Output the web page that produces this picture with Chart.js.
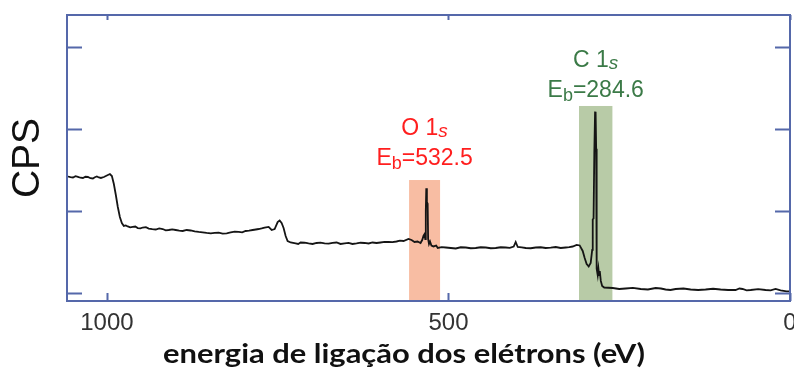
<!DOCTYPE html>
<html>
<head>
<meta charset="utf-8">
<script src="https://cdn.jsdelivr.net/npm/chart.js@4/dist/chart.umd.min.js"></script>
<style>
  html, body { margin: 0; padding: 0; background: #ffffff; }
  #wrap { width: 794px; height: 370px; position: relative; }
</style>
</head>
<body>
<div id="wrap"><canvas id="xps" width="794" height="370"></canvas></div>
<script>
// XPS survey spectrum: binding energy (eV) against counts per second (arbitrary units)
const bindingEnergy = [
  1057.1, 1053.5, 1049.8, 1046.0, 1042.5, 1038.9, 1035.2, 1031.5, 1027.9, 1024.2,
  1020.6, 1017.7, 1014.8, 1011.8, 1008.9, 1004.5, 1000.1, 995.7, 992.8, 989.9,
  987.0, 984.1, 981.1, 978.2, 975.3, 972.4, 969.5, 966.0, 962.2, 958.5,
  954.9, 951.0, 947.6, 943.0, 938.8, 933.7, 928.6, 923.5, 918.4, 914.0,
  909.6, 904.5, 899.4, 894.2, 889.1, 883.2, 877.4, 871.5, 865.7, 860.0,
  854.0, 848.0, 842.3, 836.4, 830.6, 824.7, 818.9, 813.0, 807.2, 802.0,
  797.0, 792.0, 786.7, 782.0, 777.9, 773.5, 769.2, 763.3, 758.9, 754.5,
  750.1, 747.2, 744.3, 741.4, 738.4, 735.5, 731.1, 727.5, 723.8, 720.0,
  716.5, 710.6, 704.8, 699.0, 693.1, 687.3, 681.4, 675.5, 669.7, 663.8,
  658.0, 652.0, 646.3, 640.5, 634.6, 628.7, 622.9, 617.0, 611.2, 605.3,
  599.5, 593.6, 587.8, 582.0, 576.1, 571.0, 565.8, 558.5, 554.1, 549.7,
  545.3, 540.9, 538.5, 536.5, 535.0, 534.0, 533.2, 532.5, 531.6, 530.5,
  529.8, 528.5, 527.0, 525.0, 522.0, 518.0, 515.7, 510.0, 504.0, 496.6,
  489.3, 482.0, 474.7, 467.4, 460.1, 452.8, 445.4, 438.1, 430.8, 423.5,
  416.2, 410.3, 404.5, 401.6, 398.6, 392.8, 386.9, 379.6, 372.3, 365.0,
  357.7, 350.3, 343.0, 335.7, 328.4, 323.3, 318.2, 312.3, 307.9, 303.5,
  300.6, 297.7, 294.7, 291.8, 289.6, 288.8, 287.6, 286.5, 285.4, 284.6,
  283.8, 283.5, 282.6, 281.5, 280.5, 279.5, 278.5, 277.0, 275.0, 272.0,
  259.6, 250.0, 240.6, 230.0, 218.6, 208.0, 196.7, 189.0, 182.1, 175.0,
  167.4, 156.0, 145.5, 134.5, 123.6, 112.6, 101.6, 90.6, 79.7, 74.0,
  69.5, 63.5, 57.6, 46.6, 35.7, 28.4, 21.1, 13.8, 5.0, 0.6
];
const counts = [
  1.421, 1.412, 1.409, 1.424, 1.417, 1.406, 1.403, 1.418, 1.415, 1.400,
  1.397, 1.412, 1.421, 1.409, 1.403, 1.415, 1.433, 1.451, 1.427, 1.330,
  1.196, 1.050, 0.928, 0.855, 0.819, 0.825, 0.813, 0.802, 0.807, 0.812,
  0.794, 0.789, 0.800, 0.804, 0.788, 0.781, 0.776, 0.789, 0.782, 0.765,
  0.770, 0.778, 0.770, 0.762, 0.758, 0.770, 0.764, 0.752, 0.746, 0.742,
  0.734, 0.728, 0.734, 0.738, 0.727, 0.729, 0.740, 0.750, 0.746, 0.741,
  0.758, 0.762, 0.770, 0.776, 0.782, 0.790, 0.800, 0.807, 0.770, 0.782,
  0.867, 0.886, 0.855, 0.794, 0.697, 0.636, 0.618, 0.612, 0.606, 0.600,
  0.618, 0.615, 0.606, 0.600, 0.612, 0.616, 0.606, 0.603, 0.612, 0.618,
  0.600, 0.606, 0.612, 0.600, 0.606, 0.615, 0.612, 0.606, 0.618, 0.612,
  0.618, 0.625, 0.624, 0.622, 0.630, 0.640, 0.636, 0.661, 0.648, 0.624,
  0.630, 0.612, 0.648, 0.700, 0.720, 0.660, 1.000, 1.277, 1.110, 1.090,
  0.660, 0.600, 0.630, 0.580, 0.570, 0.580, 0.551, 0.562, 0.557, 0.551,
  0.545, 0.560, 0.557, 0.548, 0.551, 0.560, 0.557, 0.548, 0.551, 0.560,
  0.557, 0.553, 0.569, 0.624, 0.563, 0.559, 0.551, 0.548, 0.557, 0.560,
  0.551, 0.555, 0.563, 0.551, 0.557, 0.562, 0.569, 0.588, 0.582, 0.515,
  0.429, 0.356, 0.326, 0.369, 0.527, 0.900, 0.910, 1.700, 2.200, 2.209,
  1.760, 1.760, 0.300, 0.220, 0.300, 0.220, 0.270, 0.150, 0.090, 0.070,
  0.064, 0.052, 0.058, 0.066, 0.052, 0.046, 0.064, 0.058, 0.046, 0.040,
  0.052, 0.058, 0.046, 0.040, 0.046, 0.055, 0.046, 0.040, 0.040, 0.058,
  0.052, 0.036, 0.040, 0.050, 0.040, 0.036, 0.052, 0.034, 0.022, 0.022
];

const xTickValues = [1000, 500, 0];
const yTickValues = [0, 1, 2, 3];
const xAxisTitle = 'energia de ligação dos elétrons (eV)';
const yAxisTitle = 'CPS';

// Core-level peaks: element, orbital, binding energy, highlighted window and its top
const peakElements = ['O', 'C'];
const peakOrbitals = ['1', '1'];
const peakEnergies = [532.5, 284.6];
const peakWindowHigh = [557.7, 308.9];
const peakWindowLow = [512.3, 260.0];
const peakWindowTop = [1.378, 2.279];
const peakFills = ['#f8bda3', '#b8cba7'];
const peakTextColors = ['#ff1e1e', '#3b7a47'];
// pixel offsets of the two label lines above each window top
const peakLabelOffsets = [[45, 15], [39, 9]];

const FRAME = '#5568aa';
const SANS = '"Liberation Sans", Arial, sans-serif';

function drawRuns(ctx, runs, cx, baseline, color) {
  let total = 0;
  runs.forEach(r => { ctx.font = r.font; r.w = ctx.measureText(r.text).width; total += r.w; });
  let x = cx - total / 2;
  ctx.fillStyle = color;
  ctx.textBaseline = 'alphabetic';
  ctx.textAlign = 'left';
  runs.forEach(r => { ctx.font = r.font; ctx.fillText(r.text, x, baseline + (r.dy || 0)); x += r.w; });
}

const spectrumDecor = {
  id: 'spectrumDecor',
  beforeDatasetsDraw(chart) {
    const { ctx, chartArea, scales: { x, y } } = chart;
    ctx.save();
    peakEnergies.forEach((e, i) => {
      const x0 = x.getPixelForValue(peakWindowHigh[i]);
      const x1 = x.getPixelForValue(peakWindowLow[i]);
      const yTop = y.getPixelForValue(peakWindowTop[i]);
      ctx.fillStyle = peakFills[i];
      ctx.fillRect(x0, yTop, x1 - x0, chartArea.bottom - yTop);
    });
    ctx.restore();
  },
  afterDatasetsDraw(chart) {
    const { ctx, chartArea: a, scales: { x, y } } = chart;
    ctx.save();
    // frame
    ctx.strokeStyle = FRAME;
    ctx.lineWidth = 2;
    ctx.strokeRect(a.left, a.top, a.right - a.left, a.bottom - a.top);
    // inward ticks
    ctx.beginPath();
    yTickValues.forEach(v => {
      const py = Math.round(y.getPixelForValue(v)) + 0.5;
      ctx.moveTo(a.left, py); ctx.lineTo(a.left + 15, py);
      ctx.moveTo(a.right, py); ctx.lineTo(a.right - 15, py);
    });
    xTickValues.forEach(v => {
      const px = Math.round(x.getPixelForValue(v)) + 0.5;
      ctx.moveTo(px, a.bottom); ctx.lineTo(px, a.bottom - 8);
      ctx.moveTo(px, a.top); ctx.lineTo(px, a.top + 5);
    });
    ctx.stroke();
    // peak labels
    peakEnergies.forEach((e, i) => {
      const cx = (x.getPixelForValue(peakWindowHigh[i]) + x.getPixelForValue(peakWindowLow[i])) / 2;
      const yTop = y.getPixelForValue(peakWindowTop[i]);
      drawRuns(ctx, [
        { text: peakElements[i] + ' ' + peakOrbitals[i], font: '23px ' + SANS },
        { text: 's', font: 'italic 19px ' + SANS, dy: 2 }
      ], cx, yTop - peakLabelOffsets[i][0], peakTextColors[i]);
      drawRuns(ctx, [
        { text: 'E', font: '23px ' + SANS },
        { text: 'b', font: '18px ' + SANS, dy: 4 },
        { text: '=' + e.toFixed(1), font: '23px ' + SANS }
      ], cx, yTop - peakLabelOffsets[i][1], peakTextColors[i]);
    });
    // x axis title, set a little wide like a condensed bold face stretched to the axis
    ctx.font = 'bold 27px Lato, "Open Sans", sans-serif';
    ctx.fillStyle = '#111111';
    ctx.textAlign = 'center';
    ctx.textBaseline = 'alphabetic';
    const w = ctx.measureText(xAxisTitle).width;
    const sx = 482 / w;
    ctx.translate(404, 363);
    ctx.scale(sx, 1);
    ctx.fillText(xAxisTitle, 0, 0);
    ctx.restore();
  }
};

new Chart(document.getElementById('xps'), {
  type: 'line',
  data: {
    datasets: [{
      data: bindingEnergy.map((e, i) => ({ x: e, y: counts[i] })),
      borderColor: '#151515',
      borderWidth: 1.8,
      pointRadius: 0,
      tension: 0,
      fill: false
    }]
  },
  options: {
    responsive: false,
    animation: false,
    devicePixelRatio: 1,
    layout: { padding: { left: 0, right: 4, top: 15, bottom: 0 } },
    plugins: { legend: { display: false }, tooltip: { enabled: false } },
    scales: {
      x: {
        type: 'linear',
        reverse: true,
        min: 0,
        max: 1058.5,
        afterBuildTicks: s => { s.ticks = xTickValues.map(v => ({ value: v })); },
        afterFit: s => { s.height = 69; s.paddingLeft = 0; s.paddingRight = 0; },
        grid: { display: false, drawTicks: false },
        border: { display: false },
        ticks: {
          font: { family: SANS, size: 24 },
          color: '#333333',
          padding: 8,
          maxRotation: 0,
          autoSkip: false,
          callback: v => String(v)
        },
        title: { display: false }
      },
      y: {
        min: -0.094,
        max: 3.386,
        afterFit: s => { s.width = 67; },
        ticks: { display: false },
        grid: { display: false, drawTicks: false },
        border: { display: false },
        title: {
          display: true,
          text: yAxisTitle,
          font: { family: SANS, size: 39 },
          color: '#111111',
          padding: { top: 5, bottom: 0 }
        }
      }
    }
  },
  plugins: [spectrumDecor]
});
</script>
</body>
</html>
